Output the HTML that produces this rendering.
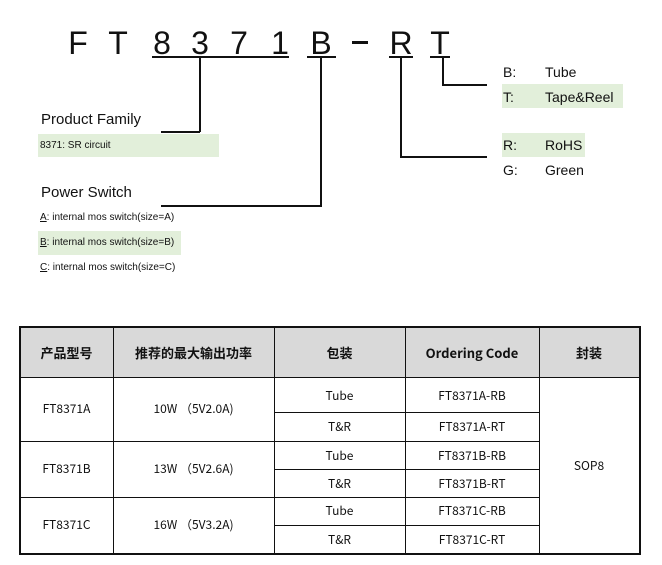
<!DOCTYPE html>
<html><head><meta charset="utf-8"><style>
body{margin:0;width:662px;height:565px;background:#fff;position:relative;overflow:hidden;font-family:"Liberation Sans",Arial,sans-serif;color:#111}
.a{position:absolute}
.ch{position:absolute;top:25px;width:30px;margin-left:-15px;text-align:center;font-size:32px;line-height:36px}
.h{position:absolute;background:#111}
.g{position:absolute;background:#e2efda}
.t{position:absolute;font-family:"WenQuanYi Zen Hei","Noto Sans CJK SC",sans-serif;font-size:12px;text-align:center;line-height:14px}
.hd{font-weight:bold;font-size:13px}
</style></head><body>
<div class="ch" style="left:78px">F</div>
<div class="ch" style="left:118px">T</div>
<div class="ch" style="left:162px">8</div>
<div class="ch" style="left:200px">3</div>
<div class="ch" style="left:239px">7</div>
<div class="ch" style="left:280px">1</div>
<div class="ch" style="left:321px">B</div>
<div class="h" style="left:352px;top:41px;width:16px;height:3px"></div>
<div class="ch" style="left:401px">R</div>
<div class="ch" style="left:440px">T</div>
<!-- underlines -->
<div class="h" style="left:152px;top:56px;width:137px;height:2px"></div>
<div class="h" style="left:307px;top:56px;width:29px;height:2px"></div>
<div class="h" style="left:389px;top:56px;width:24px;height:2px"></div>
<div class="h" style="left:430px;top:56px;width:20px;height:2px"></div>
<!-- connectors -->
<div class="h" style="left:199px;top:58px;width:1.5px;height:74px"></div>
<div class="h" style="left:161px;top:131px;width:39px;height:1.5px"></div>
<div class="h" style="left:320px;top:58px;width:1.5px;height:148px"></div>
<div class="h" style="left:161px;top:205px;width:161px;height:1.5px"></div>
<div class="h" style="left:400px;top:58px;width:1.5px;height:99px"></div>
<div class="h" style="left:400px;top:156px;width:87px;height:1.5px"></div>
<div class="h" style="left:442px;top:58px;width:1.5px;height:27px"></div>
<div class="h" style="left:442px;top:84px;width:45px;height:1.5px"></div>
<!-- left labels -->
<div class="a" style="left:41px;top:111px;font-size:15px">Product Family</div>
<div class="g" style="left:38px;top:134px;width:181px;height:23px"></div>
<div class="a" style="left:40px;top:140px;font-size:10px">8371: SR circuit</div>
<div class="a" style="left:41px;top:184px;font-size:15px">Power Switch</div>
<div class="a" style="left:40px;top:212px;font-size:10px"><u>A</u>: internal mos switch(size=A)</div>
<div class="g" style="left:38px;top:231px;width:143px;height:24px"></div>
<div class="a" style="left:40px;top:237px;font-size:10px"><u>B</u>: internal mos switch(size=B)</div>
<div class="a" style="left:40px;top:262px;font-size:10px"><u>C</u>: internal mos switch(size=C)</div>
<!-- right labels -->
<div class="g" style="left:502px;top:84px;width:121px;height:24px"></div>
<div class="g" style="left:502px;top:133px;width:83px;height:24px"></div>
<div class="a" style="left:503px;top:64px;font-size:14px">B:</div><div class="a" style="left:545px;top:64px;font-size:14px">Tube</div>
<div class="a" style="left:503px;top:89px;font-size:14px">T:</div><div class="a" style="left:545px;top:89px;font-size:14px">Tape&amp;Reel</div>
<div class="a" style="left:503px;top:137px;font-size:14px">R:</div><div class="a" style="left:545px;top:137px;font-size:14px">RoHS</div>
<div class="a" style="left:503px;top:162px;font-size:14px">G:</div><div class="a" style="left:545px;top:162px;font-size:14px">Green</div>
<!-- table -->
<div class="a" style="left:20px;top:327px;width:619px;height:51px;background:#d9d9d9"></div>
<div class="a" style="left:19px;top:326px;width:618px;height:225px;border:2px solid #111"></div>
<div class="h" style="left:20px;top:377px;width:619px;height:1px"></div>
<div class="h" style="left:113px;top:327px;width:1px;height:226px"></div>
<div class="h" style="left:274px;top:327px;width:1px;height:226px"></div>
<div class="h" style="left:405px;top:327px;width:1px;height:226px"></div>
<div class="h" style="left:539px;top:327px;width:1px;height:226px"></div>
<div class="h" style="left:20px;top:441px;width:255px;height:1px"></div>
<div class="h" style="left:20px;top:497px;width:255px;height:1px"></div>
<div class="h" style="left:274px;top:412px;width:265px;height:1px"></div>
<div class="h" style="left:274px;top:441px;width:265px;height:1px"></div>
<div class="h" style="left:274px;top:469px;width:265px;height:1px"></div>
<div class="h" style="left:274px;top:497px;width:265px;height:1px"></div>
<div class="h" style="left:274px;top:525px;width:265px;height:1px"></div>
<div class="t hd" style="left:20px;top:346px;width:93px">产品型号</div>
<div class="t hd" style="left:113px;top:346px;width:161px">推荐的最大输出功率</div>
<div class="t hd" style="left:274px;top:346px;width:131px">包装</div>
<div class="t hd" style="left:405px;top:346px;width:134px">Ordering Code</div>
<div class="t hd" style="left:539px;top:346px;width:100px">封装</div>
<div class="t" style="left:20px;top:402px;width:93px">FT8371A</div>
<div class="t" style="left:20px;top:462px;width:93px">FT8371B</div>
<div class="t" style="left:20px;top:518px;width:93px">FT8371C</div>
<div class="t" style="left:113px;top:402px;width:161px">10W （5V2.0A)</div>
<div class="t" style="left:113px;top:462px;width:161px">13W （5V2.6A)</div>
<div class="t" style="left:113px;top:518px;width:161px">16W （5V3.2A)</div>
<div class="t" style="left:274px;top:389px;width:131px">Tube</div>
<div class="t" style="left:274px;top:420px;width:131px">T&amp;R</div>
<div class="t" style="left:274px;top:449px;width:131px">Tube</div>
<div class="t" style="left:274px;top:477px;width:131px">T&amp;R</div>
<div class="t" style="left:274px;top:504px;width:131px">Tube</div>
<div class="t" style="left:274px;top:533px;width:131px">T&amp;R</div>
<div class="t" style="left:405px;top:389px;width:134px">FT8371A-RB</div>
<div class="t" style="left:405px;top:420px;width:134px">FT8371A-RT</div>
<div class="t" style="left:405px;top:449px;width:134px">FT8371B-RB</div>
<div class="t" style="left:405px;top:477px;width:134px">FT8371B-RT</div>
<div class="t" style="left:405px;top:504px;width:134px">FT8371C-RB</div>
<div class="t" style="left:405px;top:533px;width:134px">FT8371C-RT</div>
<div class="t" style="left:539px;top:459px;width:100px">SOP8</div>
</body></html>
